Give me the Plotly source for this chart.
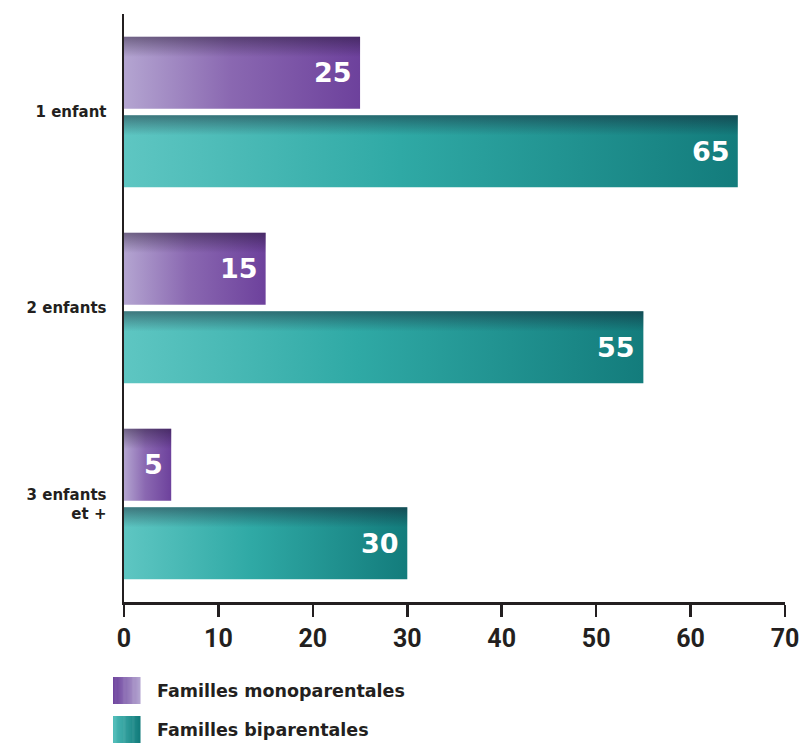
import plotly.graph_objects as go

categories = ["1 enfant", "2 enfants", "3 enfants<br>et +"]
series_names = ["Familles monoparentales", "Familles biparentales"]
mono_values = [25, 15, 5]
bi_values = [65, 55, 30]
x_ticks = [0, 10, 20, 30, 40, 50, 60, 70]

purple_scale = [[0, "#b4a5d1"], [0.45, "#8a68b1"], [1, "#6d419c"]]
teal_scale = [[0, "#5ec6c2"], [0.45, "#2fa9a5"], [1, "#137c7c"]]
shade_scale = [[0, "rgba(20,10,30,0)"], [1, "rgba(20,10,30,0.42)"]]

BAR_H = 0.367
OFFSET = 0.2
SHADE_FRAC = 0.28

n = len(categories)
centers = [n - 1 - i for i in range(n)]

fig = go.Figure()

def add_bar(val, yc, scale):
    y0, y1 = yc - BAR_H / 2, yc + BAR_H / 2
    fig.add_trace(go.Scatter(
        x=[0, val, val, 0, 0], y=[y0, y0, y1, y1, y0],
        mode="lines", fill="toself", line=dict(width=0),
        fillgradient=dict(type="horizontal", colorscale=scale, start=0, stop=val),
        hoverinfo="skip", showlegend=False))
    ys = y1 - BAR_H * SHADE_FRAC
    fig.add_trace(go.Scatter(
        x=[0, val, val, 0, 0], y=[ys, ys, y1, y1, ys],
        mode="lines", fill="toself", line=dict(width=0),
        fillgradient=dict(type="vertical", colorscale=shade_scale, start=ys, stop=y1),
        hoverinfo="skip", showlegend=False))
    fig.add_annotation(x=val, y=yc, text=str(val), showarrow=False,
                       xanchor="right", xshift=-6,
                       font=dict(family="DejaVu Sans, sans-serif", size=27,
                                 color="white", weight=700))

for i in range(n):
    add_bar(mono_values[i], centers[i] + OFFSET, purple_scale)
    add_bar(bi_values[i], centers[i] - OFFSET, teal_scale)

# legend (drawn manually)
def hexrgb(h):
    return tuple(int(h[k:k + 2], 16) for k in (1, 3, 5))

def mix(a, b, t):
    ca, cb = hexrgb(a), hexrgb(b)
    return "rgb(%d,%d,%d)" % tuple(round(ca[k] + (cb[k] - ca[k]) * t) for k in range(3))

sw_x0, sw_x1 = -0.0166, 0.0242
legend_rows = [(-0.1276, -0.1735, "#6c409c", "#b2a3cf"), (-0.1939, -0.2398, "#4cbcb8", "#137c7c")]
STRIPS = 24
for (ya, yb, c1, c2), name in zip(legend_rows, series_names):
    w = (sw_x1 - sw_x0) / STRIPS
    for s in range(STRIPS):
        fig.add_shape(type="rect", xref="paper", yref="paper",
                      x0=sw_x0 + s * w, x1=sw_x0 + (s + 1) * w + 0.0008,
                      y0=yb, y1=ya, fillcolor=mix(c1, c2, s / (STRIPS - 1)),
                      line=dict(width=0))
    fig.add_annotation(xref="paper", yref="paper", x=0.0469, y=(ya + yb) / 2,
                       text=name, showarrow=False, xanchor="left", yanchor="middle",
                       font=dict(family="DejaVu Sans, sans-serif", size=17.5, color="#231f20", weight=700))

fig.update_layout(
    template="none",
    width=800, height=744,
    margin=dict(l=124, r=15, t=14, b=142),
    paper_bgcolor="white", plot_bgcolor="white",
    showlegend=False,
    xaxis=dict(range=[0, 70], tickvals=x_ticks, ticktext=[str(t) for t in x_ticks],
               automargin=False,
               showgrid=False, zeroline=False, showline=True, linecolor="#231f20",
               linewidth=2.5, ticks="outside", ticklen=12, tickwidth=2.5,
               tickcolor="#231f20",
               tickfont=dict(family="Liberation Sans Narrow, Roboto, sans-serif", size=25,
                             color="#231f20", weight=700),
               fixedrange=True),
    yaxis=dict(range=[-0.5, 2.5], tickvals=centers, ticktext=categories,
               automargin=False,
               showgrid=False, zeroline=False, showline=True, linecolor="#231f20",
               linewidth=2.5, ticks="", ticklabelstandoff=12,
               tickfont=dict(family="DejaVu Sans, sans-serif", size=15, color="#231f20", weight=700),
               fixedrange=True),
)

fig.write_html("out.html",
               config={"displayModeBar": False, "staticPlot": True},
               post_script="document.body.style.margin='0';document.body.style.overflow='hidden';")
